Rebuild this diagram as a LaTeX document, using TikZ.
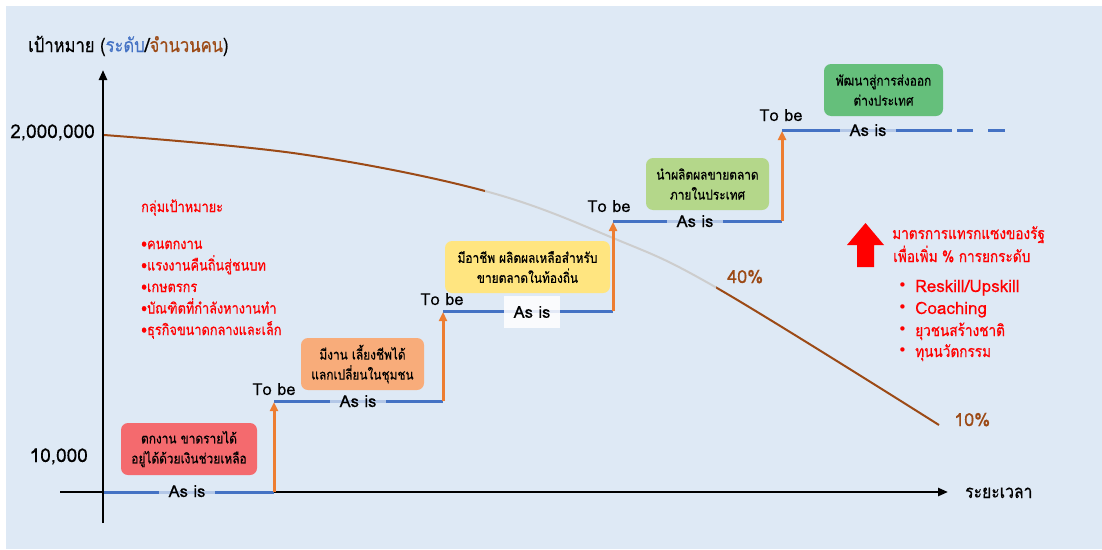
\documentclass[tikz,border=0pt]{standalone}
\usepackage{fontspec}
\setmainfont{Loma}[Script=Thai, FakeBold=0.2]
\newfontfamily\thaicond{Loma}[Script=Thai, FakeStretch=0.85, FakeBold=0.5]
\newfontfamily\bulfont{DejaVu Sans}
\usetikzlibrary{arrows.meta}
\definecolor{bgc}{HTML}{DEE9F5}
\definecolor{lineblue}{HTML}{4472C4}
\definecolor{arrorange}{HTML}{ED7D31}
\definecolor{curvebrown}{HTML}{9C4A16}
\definecolor{curvegray}{HTML}{CDCDCD}
\definecolor{redtxt}{HTML}{FF0000}
\definecolor{boxred}{HTML}{F46A6E}
\definecolor{boxorange}{HTML}{F8AC7A}
\definecolor{boxyellow}{HTML}{FFE580}
\definecolor{boxlgreen}{HTML}{B4D78A}
\definecolor{boxgreen}{HTML}{65BF7B}
\tikzset{
  x=1pt, y=-1pt,
  axisline/.style={line width=2.4pt, black, -{Triangle[length=10pt,width=8pt]}},
  levelline/.style={line width=3pt, lineblue},
  riseline/.style={line width=3pt, arrorange, -{Triangle[length=9pt,width=8pt]}},
  stagebox/.style={rounded corners=7pt, inner sep=0pt, minimum height=52pt, align=center, font=\thaicond\fontsize{14}{20}\selectfont},
  asis/.style={fill=bgc, fill opacity=0.72, text opacity=1, inner xsep=10pt, inner ysep=1pt, font=\fontsize{16.5}{16}\selectfont, anchor=base},
  tobe/.style={font=\fontsize{16.5}{16}\selectfont, anchor=base},
  redline/.style={text=redtxt, anchor=base west, inner sep=0pt, font=\thaicond\fontsize{15}{15}\selectfont},
  rightline/.style={text=redtxt, anchor=base west, inner sep=0pt, font=\thaicond\fontsize{16}{16}\selectfont},
  rightlatin/.style={text=redtxt, anchor=base west, inner sep=0pt, font=\fontsize{17}{17}\selectfont},
  plain/.style={anchor=base, inner sep=0pt, font=\fontsize{19}{19}\selectfont},
}
\begin{document}
\begin{tikzpicture}
\useasboundingbox (0,0) rectangle (1102,549);
\fill[white] (0,0) rectangle (1102,549);
\fill[bgc] (6,6) rectangle (1102,549);

% title
\node[anchor=base west, inner sep=0pt, font=\thaicond\fontsize{19.5}{20}\selectfont] (title) at (28,52)
  {เป้าหมาย (\textcolor{lineblue}{ระดับ}/\textcolor{curvebrown}{จำนวนคน})};

% curve: brown outer parts, grey middle part
\def\curvepts{(104,135) (300,154) (485,191) (613,238) (717,288) (939,425)}
\begin{scope}
\clip (0,0) rectangle (485,549) (716,0) rectangle (1102,549);
\draw[curvebrown, line width=2pt] plot[smooth, tension=0.6] coordinates {\curvepts};
\end{scope}
\begin{scope}
\clip (485,0) rectangle (716,549);
\draw[curvegray, line width=2pt] plot[smooth, tension=0.6] coordinates {\curvepts};
\end{scope}

% axes
\coordinate (ybot) at (103,523);
\coordinate (ytop) at (103,70);
\coordinate (xleft) at (60,492);
\coordinate (xright) at (948,492);
\draw[axisline] (ybot) -- (ytop);
\draw[axisline] (xleft) -- (xright);

% axis labels
\node[plain, anchor=base east] (ymax) at (95,138) {2,000,000};
\node[plain, anchor=base east] (ymin) at (88,462) {10,000};
\node[plain, anchor=base west, font=\thaicond\fontsize{18.5}{18}\selectfont] (xlab) at (965,498) {ระยะเวลา};

% step coordinates
\coordinate (s0) at (104,492);
\coordinate (s1a) at (274,492);
\coordinate (s1b) at (274,401);
\coordinate (s2a) at (443,401);
\coordinate (s2b) at (443,311);
\coordinate (s3a) at (613,311);
\coordinate (s3b) at (613,221);
\coordinate (s4a) at (782,221);
\coordinate (s4b) at (782,130);
\coordinate (s5a) at (952,130);
\coordinate (d1a) at (957,130);
\coordinate (d1b) at (973,130);
\coordinate (d2a) at (988,130);
\coordinate (d2b) at (1005,130);

\draw[levelline] (s0) -- (s1a);
\draw[levelline] (s1b) -- (s2a);
\draw[levelline] (s2b) -- (s3a);
\draw[levelline] (s3b) -- (s4a);
\draw[levelline] (s4b) -- (s5a);
\draw[levelline] (d1a) -- (d1b);
\draw[levelline] (d2a) -- (d2b);

\draw[riseline] (s1a) -- ([yshift=-1pt]s1b);
\draw[riseline] (s2a) -- ([yshift=-1pt]s2b);
\draw[riseline] (s3a) -- ([yshift=-1pt]s3b);
\draw[riseline] (s4a) -- ([yshift=-1pt]s4b);

% As is labels
\node[asis] (asis1) at (187,497) {As is};
\node[asis] (asis2) at (358,407) {As is};
\node[asis, fill=white, fill opacity=0.85, minimum width=56pt, minimum height=32pt, anchor=center] (asis3) at (532,312) {As is};
\node[asis] (asis4) at (695,227) {As is};
\node[asis] (asis5) at (868,136) {As is};

% To be labels
\node[tobe] (tobe2) at (274,395) {To be};
\node[tobe] (tobe3) at (442,305) {To be};
\node[tobe] (tobe4) at (609,212) {To be};
\node[tobe] (tobe5) at (781,121) {To be};

% stage boxes
\node[stagebox, fill=boxred, minimum width=136pt] (b1) at (189,449) {ตกงาน ขาดรายได้\\อยู่ได้ด้วยเงินช่วยเหลือ};
\node[stagebox, fill=boxorange, minimum width=123pt] (b2) at (362.5,364) {มีงาน เลี้ยงชีพได้\\แลกเปลี่ยนในชุมชน};
\node[stagebox, fill=boxyellow, minimum width=165pt] (b3) at (527.5,267) {มีอาชีพ ผลิตผลเหลือสำหรับ\\ขายตลาดในท้องถิ่น};
\node[stagebox, fill=boxlgreen, minimum width=123pt] (b4) at (707.5,184) {นำผลิตผลขายตลาด\\ภายในประเทศ};
\node[stagebox, fill=boxgreen, minimum width=119pt] (b5) at (883.5,90) {พัฒนาสู่การส่งออก\\ต่างประเทศ};

% percentages
\node[plain, text=curvebrown, anchor=base west, font=\fontsize{18}{18}\selectfont] (p40) at (727,283) {40\%};
\node[plain, text=curvebrown, anchor=base west, font=\fontsize{18}{18}\selectfont] (p10) at (954,426) {10\%};

% target group list
\node[redline] (g0) at (141,212) {กลุ่มเป้าหมายะ};
\node[redline] (g1) at (141,249) {•คนตกงาน};
\node[redline] (g2) at (141,270.5) {•แรงงานคืนถิ่นสู่ชนบท};
\node[redline] (g3) at (141,292) {•เกษตรกร};
\node[redline] (g4) at (141,313.5) {•บัณฑิตที่กำลังหางานทำ};
\node[redline] (g5) at (141,335) {•ธุรกิจขนาดกลางและเล็ก};

% intervention
\fill[redtxt] (847,245) -- (865.5,223) -- (884,245) -- (874,245) -- (874,267) -- (857,267) -- (857,245) -- cycle;
\node[rightline] (m1) at (892,239) {มาตรการแทรกแซงของรัฐ};
\node[rightline] (m2) at (893,262) {เพื่อเพิ่ม \% การยกระดับ};
\node[rightlatin, font=\bulfont\fontsize{15}{15}\selectfont] (r1b) at (898,290) {•};
\node[rightlatin] (r1) at (915,292) {Reskill/Upskill};
\node[rightlatin, font=\bulfont\fontsize{15}{15}\selectfont] (r2b) at (898,312) {•};
\node[rightlatin] (r2) at (915,314) {Coaching};
\node[rightlatin, font=\bulfont\fontsize{15}{15}\selectfont] (r3b) at (898,334) {•};
\node[rightline] (r3) at (915,336) {ยุวชนสร้างชาติ};
\node[rightlatin, font=\bulfont\fontsize{15}{15}\selectfont] (r4b) at (898,355) {•};
\node[rightline] (r4) at (915,357) {ทุนนวัตกรรม};
\end{tikzpicture}
\end{document}
